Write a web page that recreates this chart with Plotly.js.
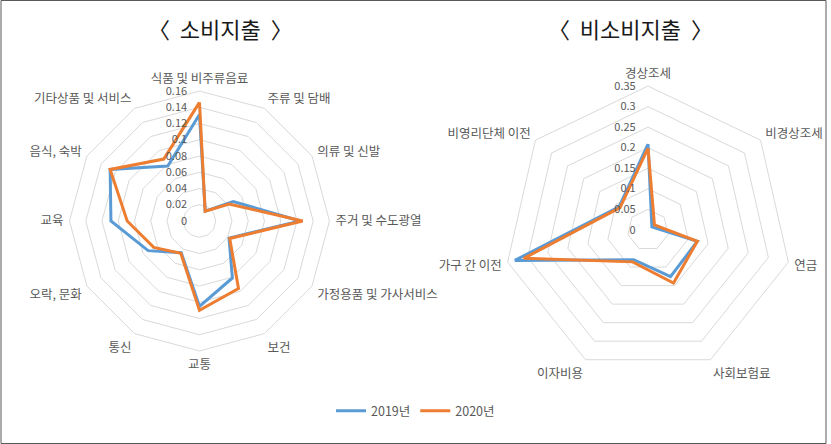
<!DOCTYPE html>
<html>
<head>
<meta charset="utf-8">
<script src="https://cdn.plot.ly/plotly-3.0.1.min.js"></script>
<style>html,body{margin:0;padding:0;background:#fff}#chart{width:831px;height:444px}</style>
</head>
<body>
<div id="chart"></div>
<script>
// 소비지출 (consumption expenditure)
const consCategories = ["식품 및 비주류음료", "주류 및 담배", "의류 및 신발", "주거 및 수도광열", "가정용품 및 가사서비스", "보건", "교통", "통신", "오락, 문화", "교육", "음식, 숙박", "기타상품 및 서비스"];
const cons2019 = [0.131, 0.014, 0.048, 0.124, 0.042, 0.081, 0.105, 0.045, 0.073, 0.109, 0.127, 0.078];
const cons2020 = [0.146, 0.014, 0.042, 0.127, 0.043, 0.096, 0.110, 0.046, 0.065, 0.089, 0.127, 0.088];

// 비소비지출 (non-consumption expenditure)
const nonCategories = ["경상조세", "비경상조세", "연금", "사회보험료", "이자비용", "가구 간 이전", "비영리단체 이전"];
const non2019 = [0.209, 0.012, 0.123, 0.126, 0.080, 0.332, 0.090];
const non2020 = [0.199, 0.020, 0.123, 0.143, 0.086, 0.310, 0.087];

const seriesNames = ["2019년", "2020년"];
const colors = ["#5B9BD5", "#ED7D31"];

function closed(arr) { return arr.concat([arr[0]]); }

const FONT = "'Noto Sans CJK KR', 'Noto Sans', sans-serif";

const traces = [];
[cons2019, cons2020].forEach((vals, i) => {
  traces.push({
    type: "scatterpolar", mode: "lines",
    r: closed(vals), theta: closed(consCategories),
    name: seriesNames[i], subplot: "polar",
    line: {color: colors[i], width: 3, shape: "linear"},
    showlegend: true, legendgroup: seriesNames[i]
  });
});
[non2019, non2020].forEach((vals, i) => {
  traces.push({
    type: "scatterpolar", mode: "lines",
    r: closed(vals), theta: closed(nonCategories),
    name: seriesNames[i], subplot: "polar2",
    line: {color: colors[i], width: 3, shape: "linear"},
    showlegend: false, legendgroup: seriesNames[i]
  });
});

function polarCfg(domainX, domainY, rmax, dtick, cats) {
  return {
    domain: {x: domainX, y: domainY},
    gridshape: "linear",
    bgcolor: "rgba(0,0,0,0)",
    angularaxis: {
      direction: "clockwise", rotation: 90,
      categoryorder: "array", categoryarray: cats,
      showgrid: false, showline: true, linecolor: "#d9d9d9", linewidth: 1,
      ticks: "outside", ticklen: 3, tickcolor: "rgba(0,0,0,0)",
      tickfont: {size: 12.5, color: "#595959", family: FONT}
    },
    radialaxis: {
      range: [0, rmax], dtick: dtick, angle: 90, side: "counterclockwise",
      showline: false, ticks: "outside", ticklen: 8, tickcolor: "rgba(0,0,0,0)",
      gridcolor: "#d9d9d9", gridwidth: 1,
      tickfont: {size: 11, color: "#595959", family: FONT},
      tickangle: 90
    }
  };
}

const layout = {
  width: 831, height: 444,
  margin: {l: 0, r: 0, t: 0, b: 0},
  paper_bgcolor: "#ffffff",
  font: {family: FONT, color: "#595959"},
  polar: polarCfg([0.0836, 0.3965], [0.2095, 0.795], 0.16, 0.02, consCategories),
  polar2: polarCfg([0.6065, 0.9531], [0.1577, 0.8063], 0.35, 0.05, nonCategories),
  showlegend: true,
  legend: {
    orientation: "h", x: 0.5, xanchor: "center", y: 0.074, yanchor: "middle",
    font: {size: 12.5, color: "#595959", family: FONT},
    itemwidth: 30, tracegroupgap: 0
  },
  annotations: [
    {text: "〈  소비지출  〉", x: 220/831, y: 1 - 28/444, xref: "paper", yref: "paper",
     xanchor: "center", yanchor: "middle", showarrow: false,
     font: {size: 22, color: "#1a1a1a", family: FONT}},
    {text: "〈  비소비지출  〉", x: 630/831, y: 1 - 28/444, xref: "paper", yref: "paper",
     xanchor: "center", yanchor: "middle", showarrow: false,
     font: {size: 22, color: "#1a1a1a", family: FONT}}
  ],
  shapes: [
    {type: "rect", xref: "paper", yref: "paper", x0: 1/831, x1: 826/831, y0: 0.5/444, y1: 443.5/444,
     line: {color: "#595959", width: 1}, fillcolor: "rgba(0,0,0,0)"}
  ]
};

Plotly.newPlot("chart", traces, layout, {displayModeBar: false, staticPlot: true});
</script>
</body>
</html>
